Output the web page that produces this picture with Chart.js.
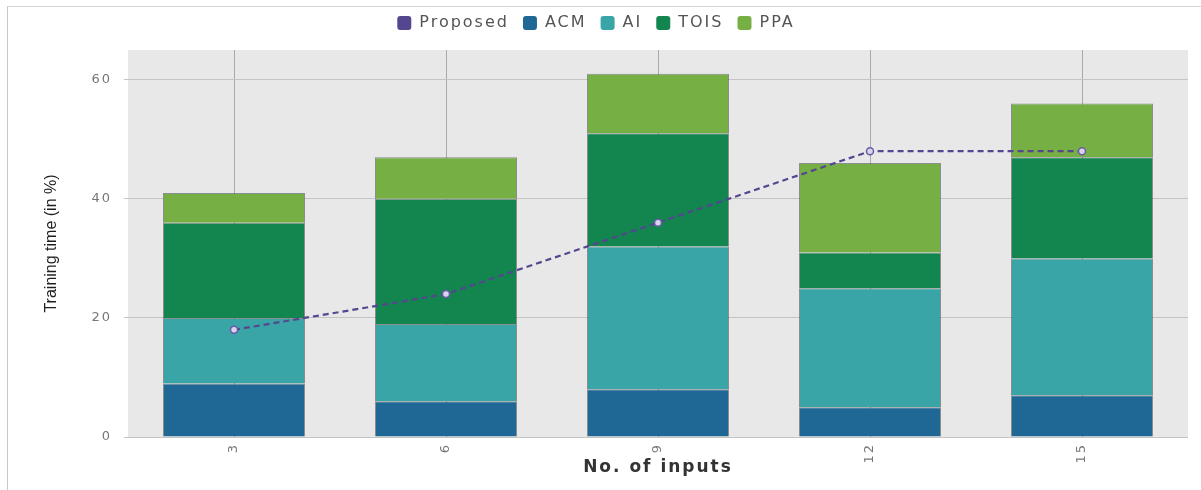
<!DOCTYPE html>
<html>
<head>
<meta charset="utf-8">
<title>Training time vs number of inputs</title>
<script src="https://cdn.jsdelivr.net/npm/chart.js@4/dist/chart.umd.min.js"></script>
<style>
  html, body { margin: 0; padding: 0; background: #ffffff; }
  body { width: 1201px; height: 490px; position: relative; overflow: hidden; }
  .frame {
    position: absolute; left: 7px; top: 6px; right: -2px; bottom: -2px;
    border-top: 1px solid #d4d4d4; border-left: 1px solid #c8c8c8;
  }
  canvas { position: absolute; left: 0; top: 0; }
</style>
</head>
<body>
<div class="frame"></div>
<canvas id="chart" width="1201" height="490"></canvas>
<script>
// Number of inputs on the x axis
const categories = ['3', '6', '9', '12', '15'];

// Training time (in %) per method
const proposed = [18, 24, 36, 48, 48];
const acm  = [9, 6, 8, 5, 7];
const ai   = [11, 13, 24, 20, 23];
const tois = [16, 21, 19, 6, 17];
const ppa  = [5, 7, 10, 15, 9];

const yTicks = [0, 20, 40, 60];

const COLORS = {
  proposed: '#54468f',
  acm: '#1f6896',
  ai: '#3aa5a6',
  tois: '#13854f',
  ppa: '#76b045'
};

const TRACK = '2px';

// Grey panel behind the plot area
const panelBg = {
  id: 'panelBg',
  beforeDraw(chart) {
    const { ctx, chartArea: a } = chart;
    ctx.fillStyle = '#e8e8e8';
    ctx.fillRect(a.left, a.top, a.right - a.left, a.bottom - a.top);
  }
};

// Wide tracking for legend, ticks and x title; the y title stays tight
const tracking = {
  id: 'tracking',
  beforeInit(chart) { chart.ctx.letterSpacing = TRACK; },
  beforeUpdate(chart) { chart.ctx.letterSpacing = TRACK; },
  beforeDraw(chart) {
    chart.ctx.letterSpacing = TRACK;
    const y = chart.scales.y;
    if (y && !y._tightTitle) {
      const base = Object.getPrototypeOf(y).drawTitle;
      y.drawTitle = function () {
        const ctx = this.ctx;
        const prev = ctx.letterSpacing;
        ctx.letterSpacing = '0px';
        base.call(this);
        ctx.letterSpacing = prev;
      };
      y._tightTitle = true;
    }
  }
};

// Extra room between the legend row and the plot panel
const legendGap = {
  id: 'legendGap',
  afterInit(chart) {
    const lg = chart.legend;
    const fit = lg.fit;
    lg.fit = function () { fit.call(this); this.height += 9; };
  }
};

function barSet(label, data, color) {
  return {
    type: 'bar',
    label,
    data,
    stack: 'methods',
    backgroundColor: color,
    borderColor: 'rgba(60,70,70,0.55)',
    borderWidth: 1,
    barPercentage: 0.67,
    categoryPercentage: 1.0,
    order: 2
  };
}

new Chart(document.getElementById('chart'), {
  data: {
    labels: categories,
    datasets: [
      {
        type: 'line',
        label: 'Proposed',
        data: proposed,
        stack: 'proposed',
        borderColor: COLORS.proposed,
        backgroundColor: COLORS.proposed,
        borderWidth: 2.2,
        borderDash: [6, 4],
        pointRadius: 3.5,
        pointBorderWidth: 1.5,
        pointBackgroundColor: '#d9d3ee',
        pointBorderColor: '#6a5ba6',
        tension: 0,
        order: 0
      },
      barSet('ACM', acm, COLORS.acm),
      barSet('AI', ai, COLORS.ai),
      barSet('TOIS', tois, COLORS.tois),
      barSet('PPA', ppa, COLORS.ppa)
    ]
  },
  options: {
    responsive: false,
    devicePixelRatio: 1,
    animation: false,
    layout: { padding: { left: 4, right: 13, top: 1, bottom: 12 } },
    plugins: {
      tooltip: { enabled: false },
      legend: {
        position: 'top',
        labels: {
          font: { family: 'DejaVu Sans', size: 16 },
          color: '#555555',
          boxWidth: 14,
          boxHeight: 14,
          useBorderRadius: true,
          borderRadius: 3,
          padding: 14,
          generateLabels(chart) {
            const items = Chart.defaults.plugins.legend.labels.generateLabels(chart);
            return items.map(it => Object.assign(it, {
              lineDash: [], lineWidth: 0, strokeStyle: it.fillStyle
            }));
          }
        }
      }
    },
    scales: {
      x: {
        stacked: true,
        offset: true,
        grid: { offset: false, color: '#a9a9a9', lineWidth: 1, drawTicks: false },
        border: { display: false },
        ticks: {
          font: { family: 'DejaVu Sans', size: 13 },
          color: '#777777',
          minRotation: 90,
          maxRotation: 90,
          padding: 6
        },
        title: {
          display: true,
          text: 'No. of inputs',
          font: { family: 'DejaVu Sans', size: 17, weight: 'bold' },
          color: '#333333',
          padding: { top: 2, bottom: 0 }
        },
        afterFit(scale) { scale.height = 41; }
      },
      y: {
        stacked: true,
        min: 0,
        max: 65,
        afterBuildTicks(scale) {
          scale.ticks = yTicks.map(v => ({ value: v }));
        },
        grid: { color: '#c4c4c4', lineWidth: 1, tickLength: 4 },
        border: { display: false },
        ticks: {
          font: { family: 'DejaVu Sans', size: 13 },
          color: '#777777',
          padding: 12
        },
        title: {
          display: true,
          text: 'Training time (in %)',
          font: { family: 'Liberation Sans', size: 16 },
          color: '#1e1e1e',
          padding: { top: 38, bottom: 0 }
        },
        afterFit(scale) { scale.width = 124; }
      }
    }
  },
  plugins: [tracking, legendGap, panelBg]
});
</script>
</body>
</html>
